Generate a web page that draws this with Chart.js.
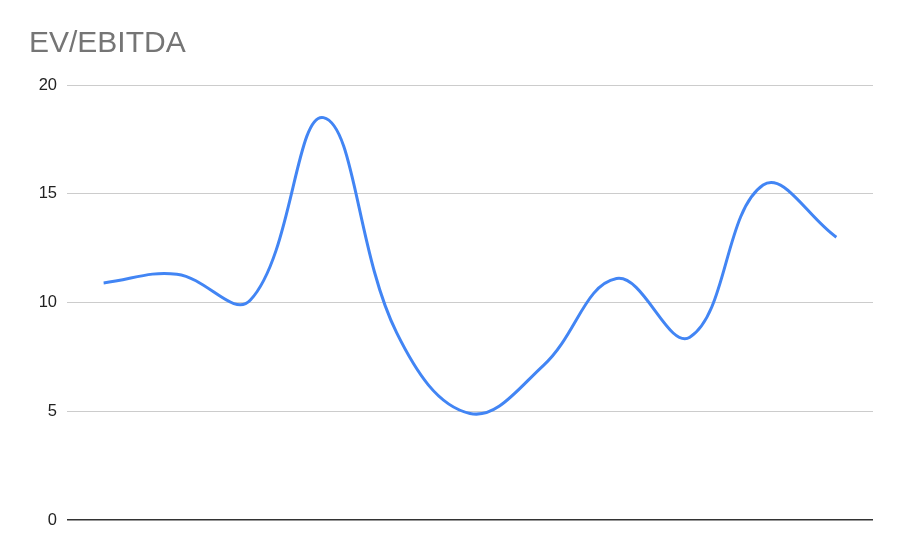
<!DOCTYPE html>
<html>
<head>
<meta charset="utf-8">
<script src="https://cdn.jsdelivr.net/npm/chart.js@4/dist/chart.umd.min.js"></script>
<style>
  html, body { margin: 0; padding: 0; background: #fff; }
  #wrap { width: 900px; height: 557px; }
</style>
</head>
<body>
<div id="wrap"><canvas id="myChart" width="900" height="557"></canvas></div>
<script>
// /////////////// chart data
const chartTitle = 'EV/EBITDA';
const categories = ['1', '2', '3', '4', '5', '6', '7', '8', '9', '10', '11'];
const evEbitda = [10.9, 11.3, 10.1, 18.5, 8.6, 4.9, 7.1, 11.1, 8.4, 15.4, 13.0];
const yTicks = [0, 5, 10, 15, 20];

const fontFamily = "Arial, 'Liberation Sans', sans-serif";

// /////////////// create the line graph
const makeTheLineGraph = function(values){
    var ctx = document.getElementById('myChart').getContext('2d');
    var myChart = new Chart(ctx, {
        type: 'line',
        data: {
            labels: categories,
            datasets: [{
                label: chartTitle,
                data: values,
                borderColor: '#4285f4',
                borderWidth: 3,
                pointRadius: 0,
                tension: 0.4,
                fill: false
            }]
        },
        options: {
            responsive: false,
            animation: false,
            layout: { padding: { left: 29, right: 27, top: 0, bottom: 37 } },
            plugins: {
                legend: { display: false },
                tooltip: { enabled: false },
                title: {
                    display: true,
                    text: chartTitle,
                    align: 'start',
                    color: '#757575',
                    font: { family: fontFamily, size: 30, weight: 'normal' },
                    padding: { top: 26, bottom: 23 }
                }
            },
            scales: {
                x: {
                    display: false,
                    offset: true
                },
                y: {
                    min: yTicks[0],
                    max: yTicks[yTicks.length - 1],
                    afterFit: function(scale){ scale.width = 38; },
                    afterBuildTicks: function(scale){
                        scale.ticks = yTicks.map(v => ({ value: v }));
                    },
                    border: { display: false },
                    grid: {
                        drawTicks: false,
                        color: c => c.tick && c.tick.value === 0 ? '#333333' : '#cccccc',
                        lineWidth: c => c.tick && c.tick.value === 0 ? 1.5 : 1
                    },
                    ticks: {
                        padding: 10,
                        color: '#222222',
                        font: { family: fontFamily, size: 16.5 }
                    }
                }
            }
        }
    });
}
makeTheLineGraph(evEbitda);
</script>
</body>
</html>
